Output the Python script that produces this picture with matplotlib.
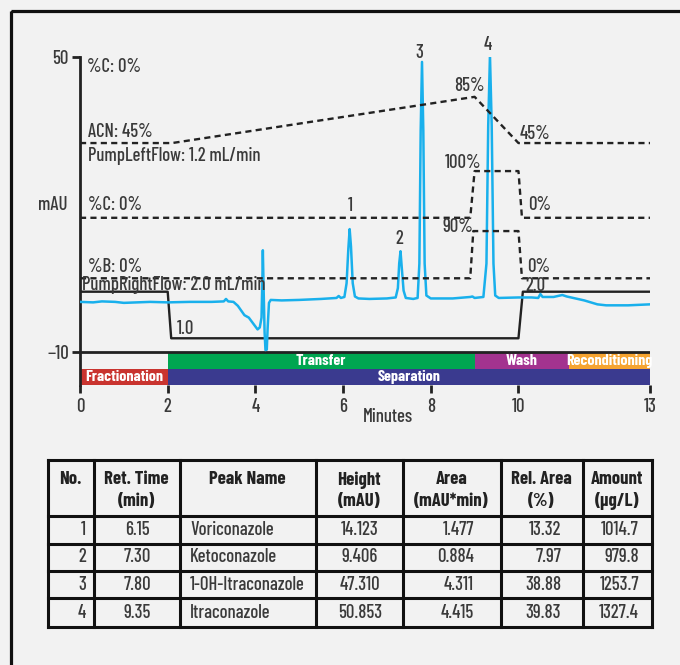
import matplotlib
matplotlib.use("Agg")
import matplotlib.pyplot as plt
from matplotlib.patches import Rectangle

FONT = ['Barlow Condensed', 'DejaVu Sans']
BOLD = ['Barlow Condensed', 'DejaVu Sans']
plt.rcParams['font.family'] = FONT
plt.rcParams['font.weight'] = 500

# ---------------- data ----------------
# chromatogram (time in min, signal in mAU)
trace_t = [0.0, 0.3, 0.5, 0.8, 1.0, 1.3, 1.6, 2.0, 2.5, 3.0, 3.28, 3.33, 3.38, 3.5,
           3.6, 3.75, 3.85, 3.95, 4.05, 4.10, 4.14, 4.16, 4.17, 4.19, 4.21, 4.23,
           4.26, 4.28, 4.31, 4.35, 4.6, 5.0, 5.5, 5.85, 5.9, 5.95, 6.03, 6.08, 6.12,
           6.15, 6.18, 6.22, 6.27, 6.35, 6.6, 7.0, 7.1, 7.2, 7.25, 7.28, 7.31, 7.34,
           7.38, 7.43, 7.6, 7.7, 7.74, 7.77, 7.80, 7.83, 7.86, 7.9, 8.0, 8.5, 8.9,
           8.95, 9.0, 9.2, 9.27, 9.31, 9.35, 9.39, 9.43, 9.47, 9.55, 10.0, 10.3,
           10.45, 10.5, 10.55, 10.8, 11.0, 11.1, 11.5, 11.8, 12.0, 12.5, 13.0]
trace_y = [0.2, 0.1, 0.3, 0.2, 0.0, 0.1, 0.2, 0.1, 0.2, 0.2, 0.3, 0.8, 0.3, 0.2,
           -0.6, -2.5, -3.0, -4.2, -5.4, -5.0, -3.0, 5.0, 10.7, 2.0, -6.0, -9.6,
           -9.5, -5.0, 0.0, 0.6, 0.5, 0.6, 0.8, 1.0, 1.4, 1.0, 1.2, 4.0, 11.0,
           15.0, 11.5, 4.0, 1.3, 0.9, 0.8, 0.9, 1.0, 1.1, 3.0, 8.0, 10.5, 7.0,
           2.5, 1.0, 0.8, 1.0, 8.0, 35.0, 49.0, 35.0, 8.0, 1.5, 0.9, 0.9, 1.2,
           1.3, 1.0, 1.2, 8.0, 36.0, 50.4, 36.0, 8.0, 1.5, 1.0, 1.1, 1.1,
           1.0, 1.8, 1.2, 1.2, 1.6, 1.3, 0.5, -0.3, -0.5, -0.5, -0.3]

# gradient / flow profiles (time, plotted level)
acn_t = [0, 2.1, 9.0, 10.0, 13]
acn_y = [32.5, 32.5, 41.9, 32.5, 32.5]
pc_t = [0, 8.9, 9.0, 10.0, 10.08, 13]
pc_y = [17.3, 17.3, 26.8, 26.8, 17.3, 17.3]
pb_t = [0, 8.9, 8.97, 10.0, 10.08, 13]
pb_y = [5.0, 5.0, 14.6, 14.6, 5.0, 5.0]
flow_t = [0, 2.0, 2.08, 10.0, 10.1, 13]
flow_y = [2.27, 2.27, -7.2, -7.2, 2.27, 2.27]

# peak labels
peak_nums = ['1', '2', '3', '4']
peak_lab_t = [6.16, 7.27, 7.75, 9.3]
peak_lab_y = [19.6, 13.0, 50.8, 52.4]

# method bands
band1_names = ['Transfer', 'Wash', 'Reconditioning']
band1_start = [2.0, 9.0, 11.15]
band1_end = [9.0, 11.15, 13.0]
band1_colors = ['#00a651', '#a3338f', '#f6a431']
band2_names = ['Fractionation', 'Separation']
band2_start = [0.0, 2.0]
band2_end = [2.0, 13.0]
band2_colors = ['#c9342f', '#3a3a8f']

xticks = [0, 2, 4, 6, 8, 10, 13]
yticks = [50, -10]
ytick_labels = ['50', '\u221210']

# table
tbl_header = [['No.'], ['Ret. Time', '(min)'], ['Peak Name'], ['Height', '(mAU)'],
              ['Area', '(mAU*min)'], ['Rel. Area', '(%)'], ['Amount', '(\u03bcg/L)']]
tbl_no = ['1', '2', '3', '4']
tbl_rt = ['6.15', '7.30', '7.80', '9.35']
tbl_name = ['Voriconazole', 'Ketoconazole', '1-OH-Itraconazole', 'Itraconazole']
tbl_height = ['14.123', '9.406', '47.310', '50.853']
tbl_area = ['1.477', '0.884', '4.311', '4.415']
tbl_rel = ['13.32', '7.97', '38.88', '39.83']
tbl_amount = ['1014.7', '979.8', '1253.7', '1327.4']

# ---------------- figure ----------------
BG = '#f2f2f2'
TXT = '#3a3a3a'
FS = 13.5
W, H = 680, 665
fig = plt.figure(figsize=(6.8, 6.65), dpi=100, facecolor=BG)

def px2fig(x0, y0, x1, y1):
    return [x0 / W, 1 - y1 / H, (x1 - x0) / W, (y1 - y0) / H]

ax = fig.add_axes(px2fig(80, 57, 650, 384.5))
ax.set_facecolor('none')
ax.set_xlim(0, 13)
ax.set_ylim(-16.6, 50)
for s in ['top', 'right', 'bottom']:
    ax.spines[s].set_visible(False)
ax.spines['left'].set_linewidth(2.0)
ax.spines['left'].set_color('#222222')

ax.set_xticks(xticks)
ax.set_xticklabels([str(v) for v in xticks])
ax.set_yticks(yticks)
ax.set_yticklabels(ytick_labels)
ax.tick_params(axis='both', direction='out', length=6, width=2.0, color='#222222',
               labelsize=FS, labelcolor=TXT)
ax.tick_params(axis='x', pad=4)
ax.tick_params(axis='y', pad=2)

# bands
r1_top, r1_bot = -10, -13.45
r2_top, r2_bot = -13.45, -16.6
for n, s, e, c in zip(band1_names, band1_start, band1_end, band1_colors):
    ax.add_patch(Rectangle((s, r1_bot), e - s, r1_top - r1_bot, facecolor=c,
                           edgecolor='none', zorder=2))
    ax.text((s + e) / 2, (r1_top + r1_bot) / 2 - 0.1, n, color='white', fontsize=11.5,
            fontweight='bold', family=BOLD, ha='center', va='center', zorder=3)
for n, s, e, c in zip(band2_names, band2_start, band2_end, band2_colors):
    ax.add_patch(Rectangle((s, r2_bot), e - s, r2_top - r2_bot, facecolor=c,
                           edgecolor='none', zorder=2))
    ax.text((s + e) / 2, (r2_top + r2_bot) / 2 - 0.1, n, color='white', fontsize=11.5,
            fontweight='bold', family=BOLD, ha='center', va='center', zorder=3)

ax.plot([0, 13], [-10, -10], color='#222222', lw=2.0, zorder=4, solid_capstyle='butt')

# profiles
ax.plot(flow_t, flow_y, color='#222222', lw=1.7, zorder=3)
ax.plot(trace_t, trace_y, color='#19b0ec', lw=1.8, zorder=4)
for tt, yy in [(acn_t, acn_y), (pc_t, pc_y), (pb_t, pb_y)]:
    ax.plot(tt, yy, color='#222222', lw=1.7, dashes=(2.6, 1.8), zorder=5)

# annotations
def ann(x, y, s, ha='left'):
    ax.text(x, y, s, fontsize=FS, color=TXT, ha=ha, va='center', zorder=6)

ann(0.16, 48.0, '%C: 0%')
ann(0.18, 34.8, 'ACN: 45%')
ann(0.18, 29.9, 'PumpLeftFlow: 1.2 mL/min')
ann(0.18, 19.9, '%C: 0%')
ann(0.18, 7.2, '%B: 0%')
ann(0.04, 3.6, 'PumpRightFlow: 2.0 mL/min')
ann(2.2, -5.4, '1.0')
ann(8.89, 44.1, '85%', ha='center')
ann(10.03, 34.3, '45%')
ann(9.16, 28.4, '100%', ha='right')
ann(10.22, 19.9, '0%')
ann(8.96, 15.4, '90%', ha='right')
ann(10.19, 7.35, '0%')
ann(10.15, 3.5, '2.0')
for n, x, y in zip(peak_nums, peak_lab_t, peak_lab_y):
    ann(x, y, n, ha='center')

fig.text(53 / W, 1 - 205 / H, 'mAU', fontsize=FS, color=TXT, ha='center', va='center')
fig.text(388 / W, 1 - 417 / H, 'Minutes', fontsize=FS, color=TXT, ha='center', va='center')

# ---------------- overlay: frame + table ----------------
ov = fig.add_axes([0, 0, 1, 1], facecolor='none')
ov.set_xlim(0, W)
ov.set_ylim(H, 0)
ov.axis('off')

ov.add_patch(Rectangle((11, 11), 700, 700, facecolor='none', edgecolor='#111111',
                       lw=2.3, clip_on=False))

col_x = [48, 93.5, 179.5, 315.5, 402.5, 500.5, 582.5, 652]
row_y = [460, 516, 544, 571, 598, 627]
lw_t = 2.2
for x in col_x:
    ov.plot([x, x], [row_y[0], row_y[-1]], color='#111111', lw=lw_t, solid_capstyle='projecting')
for y in row_y:
    ov.plot([col_x[0], col_x[-1]], [y, y], color='#111111', lw=lw_t, solid_capstyle='projecting')

for i, lines in enumerate(tbl_header):
    cx = (col_x[i] + col_x[i + 1]) / 2
    for k, h in enumerate(lines):
        ov.text(cx, 480 + 21.5 * k, h, fontsize=13.5, fontweight='bold', family=BOLD,
                color='#222222', ha='center', va='center')

cols = [tbl_no, tbl_rt, tbl_name, tbl_height, tbl_area, tbl_rel, tbl_amount]
aligns = [('right', 86), ('center', 137), ('left', 190), ('center', 360),
          ('right', 474), ('right', 561), ('right', 639)]
for c, (ha, x) in zip(cols, aligns):
    for r, v in enumerate(c):
        cy = (row_y[r + 1] + row_y[r + 2]) / 2
        ov.text(x, cy, v, fontsize=FS, color=TXT, ha=ha, va='center')

fig.savefig('out.png', dpi=100, facecolor=BG)
